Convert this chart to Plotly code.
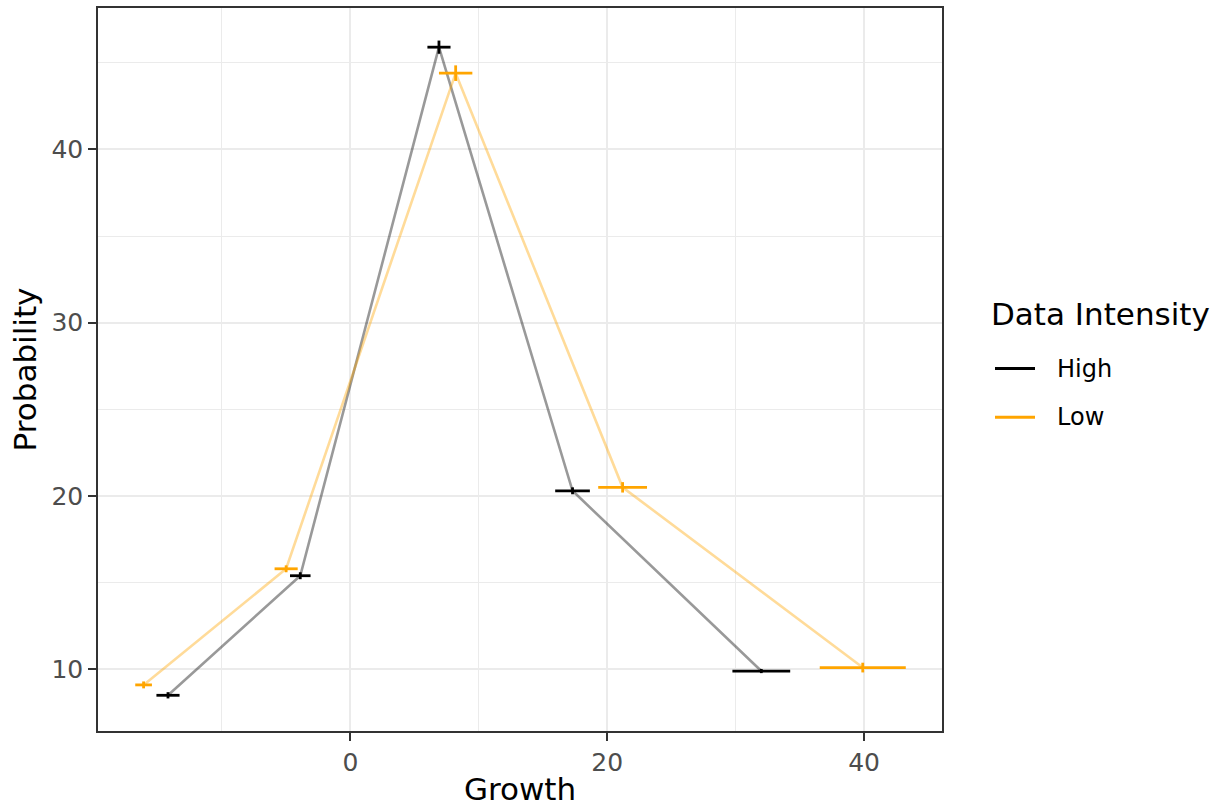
import plotly.graph_objects as go

# Data
high_x = [-14.2, -3.9, 6.9, 17.3, 32.0]
high_y = [8.5, 15.4, 45.9, 20.3, 9.9]
high_xerr = [0.9, 0.8, 0.9, 1.35, 2.25]
high_yerr = [0.18, 0.2, 0.38, 0.2, 0.12]

low_x = [-16.1, -5.0, 8.2, 21.2, 39.9]
low_y = [9.1, 15.8, 44.4, 20.5, 10.1]
low_xerr = [0.65, 0.9, 1.3, 1.9, 3.35]
low_yerr = [0.2, 0.2, 0.45, 0.3, 0.28]

series_names = ["High", "Low"]
series_colors = ["#000000", "#FFA500"]
line_colors = ["rgba(0,0,0,0.4)", "rgba(255,165,0,0.4)"]

x_ticks = [0, 20, 40]
y_ticks = [10, 20, 30, 40]
legend_title = "Data Intensity"

FONT = "DejaVu Sans"

W, H = 1224, 807
L, R, T, B = 98, 282, 6, 75
PW, PH = W - L - R, H - T - B


def px_x(p):
    return (p - L) / PW


def px_y(p):
    return (H - B - p) / PH


fig = go.Figure()

data = [(high_x, high_y, high_xerr, high_yerr), (low_x, low_y, low_xerr, low_yerr)]

# connecting lines
for (xs, ys, xe, ye), lc in zip(data, line_colors):
    fig.add_trace(go.Scatter(x=xs, y=ys, mode="lines",
                             line=dict(color=lc, width=2.6),
                             showlegend=False, hoverinfo="skip"))

# error bars
for (xs, ys, xe, ye), c, n in zip(data, series_colors, series_names):
    fig.add_trace(go.Scatter(
        x=xs, y=ys, mode="markers", name=n,
        marker=dict(size=1, color=c, opacity=0),
        error_x=dict(type="data", array=xe, width=0, thickness=2.8, color=c),
        error_y=dict(type="data", array=ye, width=0, thickness=2.8, color=c),
        showlegend=False))

# manual legend (ggplot-style)
annotations = [dict(text=legend_title, xref="paper", yref="paper",
                    x=px_x(989), y=px_y(313), xanchor="left", yanchor="middle",
                    showarrow=False, font=dict(size=31, family=FONT, color="black"))]
shapes = []
for i, (n, c) in enumerate(zip(series_names, series_colors)):
    yy = px_y(368 + 49 * i)
    shapes.append(dict(type="line", xref="paper", yref="paper",
                       x0=px_x(995), x1=px_x(1035), y0=yy, y1=yy,
                       line=dict(color=c, width=3)))
    annotations.append(dict(text=n, xref="paper", yref="paper",
                            x=px_x(1055), y=yy, xanchor="left", yanchor="middle",
                            showarrow=False, font=dict(size=24, family=FONT, color="black")))

fig.update_layout(
    width=W, height=H,
    paper_bgcolor="white", plot_bgcolor="white",
    margin=dict(l=L, r=R, t=T, b=B),
    font=dict(family=FONT, color="black"),
    showlegend=False,
    annotations=annotations,
    shapes=shapes,
    xaxis=dict(
        range=[-19.65, 46.07], tickvals=x_ticks, ticktext=[str(v) for v in x_ticks],
        showgrid=True, gridcolor="#EBEBEB", gridwidth=2,
        minor=dict(tickvals=[-10, 10, 30], showgrid=True, gridcolor="#EBEBEB", gridwidth=1, ticks=""),
        zeroline=False, showline=True, linecolor="#333333", linewidth=1.5, mirror=True,
        ticks="outside", ticklen=8, tickwidth=2, tickcolor="#333333",
        tickfont=dict(size=25, color="#4D4D4D", family=FONT),
        title=dict(text="Growth", font=dict(size=31, family=FONT, color="black"), standoff=3),
    ),
    yaxis=dict(
        range=[6.44, 48.16], tickvals=y_ticks, ticktext=[str(v) for v in y_ticks],
        showgrid=True, gridcolor="#EBEBEB", gridwidth=2,
        minor=dict(tickvals=[15, 25, 35, 45], showgrid=True, gridcolor="#EBEBEB", gridwidth=1, ticks=""),
        zeroline=False, showline=True, linecolor="#333333", linewidth=1.5, mirror=True,
        ticks="outside", ticklen=8, tickwidth=2, tickcolor="#333333",
        tickfont=dict(size=25, color="#4D4D4D", family=FONT),
        title=dict(text="Probability", font=dict(size=31, family=FONT, color="black"), standoff=6),
    ),
)

fig.write_html("out.html",
               config={"displayModeBar": False},
               post_script="document.body.style.margin='0';document.body.style.padding='0';")
